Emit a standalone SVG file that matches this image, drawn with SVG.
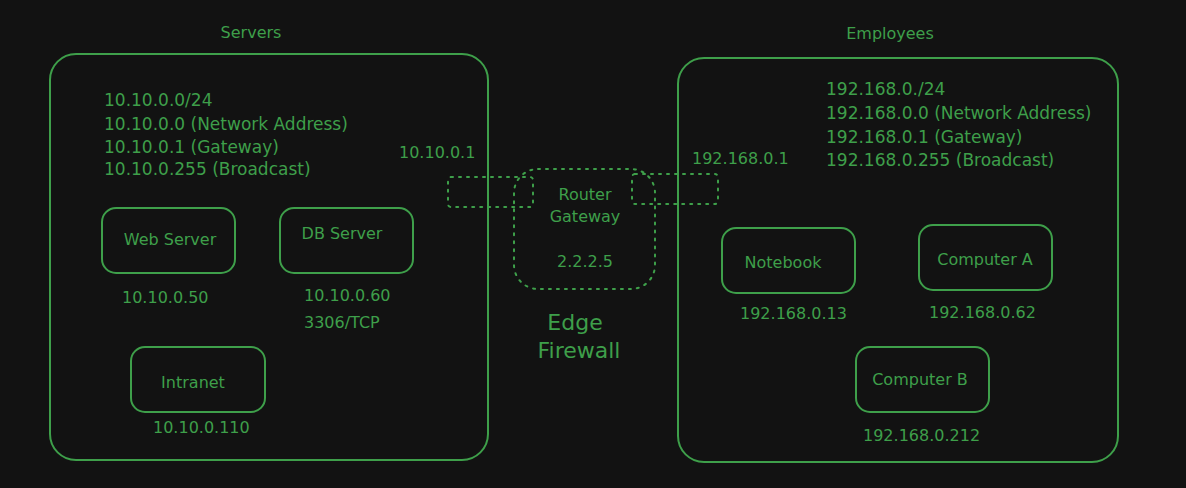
<svg xmlns="http://www.w3.org/2000/svg" width="1186" height="488" viewBox="0 0 1186 488">
<style>
.bg{fill:#121212}
.box{fill:none;stroke:#3e9f4a;stroke-width:2}
.dot{fill:none;stroke:#3e9f4a;stroke-width:2;stroke-dasharray:2 6;stroke-linecap:round}
text{font-family:"DejaVu Sans","Liberation Sans",sans-serif;fill:#3e9f4a;dominant-baseline:central}
.t16{font-size:16px}
.t17{font-size:17px}
.t22{font-size:22px}
.mid{text-anchor:middle}
</style>
<rect class="bg" x="0" y="0" width="1186" height="488"/>
<g id="servers">
  <text class="t16 mid" x="251" y="32">Servers</text>
  <rect class="box" x="50" y="54" width="438" height="406" rx="26"/>
  <text class="t17" x="104" y="100">10.10.0.0/24</text>
  <text class="t17" x="104" y="124">10.10.0.0 (Network Address)</text>
  <text class="t17" x="104" y="147">10.10.0.1 (Gateway)</text>
  <text class="t17" x="104" y="169">10.10.0.255 (Broadcast)</text>
  <text class="t16" x="399" y="152">10.10.0.1</text>
</g>
<g id="web-server">
  <rect class="box" x="102" y="208" width="133" height="65" rx="14"/>
  <text class="t16 mid" x="170" y="239">Web Server</text>
  <text class="t16" x="122" y="297">10.10.0.50</text>
</g>
<g id="db-server">
  <rect class="box" x="280" y="208" width="133" height="65" rx="14"/>
  <text class="t16 mid" x="342" y="233">DB Server</text>
  <text class="t16" x="304" y="295">10.10.0.60</text>
  <text class="t16" x="304" y="322">3306/TCP</text>
</g>
<g id="intranet">
  <rect class="box" x="131" y="347" width="134" height="65" rx="14"/>
  <text class="t16 mid" x="193" y="382">Intranet</text>
  <text class="t16" x="153" y="427">10.10.0.110</text>
</g>
<g id="router">
  <rect class="dot" x="448" y="177" width="85" height="30" rx="3"/>
  <rect class="dot" x="514" y="169" width="141" height="120" rx="24"/>
  <rect class="dot" x="632" y="174" width="86" height="30" rx="3"/>
  <text class="t16 mid" x="585" y="194">Router</text>
  <text class="t16 mid" x="585" y="216">Gateway</text>
  <text class="t16 mid" x="585" y="261">2.2.2.5</text>
  <text class="t22 mid" x="575" y="322">Edge</text>
  <text class="t22 mid" x="579" y="350">Firewall</text>
</g>
<g id="employees">
  <text class="t16 mid" x="890" y="33">Employees</text>
  <rect class="box" x="678" y="58" width="440" height="404" rx="26"/>
  <text class="t17" x="826" y="89">192.168.0./24</text>
  <text class="t17" x="826" y="113">192.168.0.0 (Network Address)</text>
  <text class="t17" x="826" y="137">192.168.0.1 (Gateway)</text>
  <text class="t17" x="826" y="160">192.168.0.255 (Broadcast)</text>
  <text class="t16" x="692" y="158">192.168.0.1</text>
</g>
<g id="notebook">
  <rect class="box" x="722" y="228" width="133" height="65" rx="14"/>
  <text class="t16 mid" x="783" y="262">Notebook</text>
  <text class="t16" x="740" y="313">192.168.0.13</text>
</g>
<g id="computer-a">
  <rect class="box" x="919" y="225" width="133" height="65" rx="14"/>
  <text class="t16 mid" x="985" y="259">Computer A</text>
  <text class="t16" x="929" y="312">192.168.0.62</text>
</g>
<g id="computer-b">
  <rect class="box" x="856" y="347" width="133" height="65" rx="14"/>
  <text class="t16 mid" x="920" y="379">Computer B</text>
  <text class="t16" x="863" y="435">192.168.0.212</text>
</g>
<g id="connectors"></g>
</svg>
